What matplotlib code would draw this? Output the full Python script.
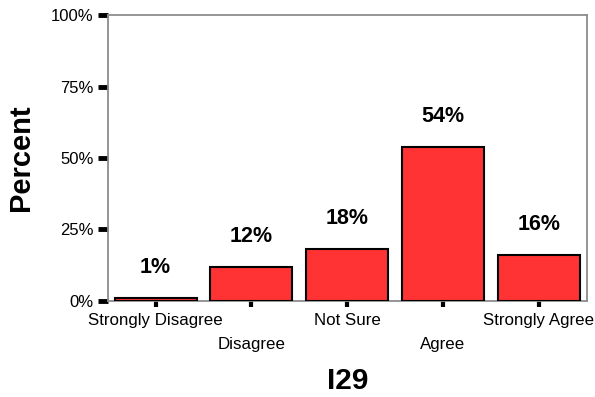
import matplotlib
matplotlib.use("Agg")
import matplotlib.pyplot as plt

plt.rcParams['font.family'] = ['Liberation Sans', 'DejaVu Sans']

categories = ["Strongly Disagree", "Disagree", "Not Sure", "Agree", "Strongly Agree"]
percents = [1, 12, 18, 54, 16]
y_ticks = [0, 25, 50, 75, 100]
y_tick_labels = ["0%", "25%", "50%", "75%", "100%"]

fig = plt.figure(figsize=(5.95, 3.97), dpi=100)
ax = fig.add_axes([0.181, 0.242, 0.805, 0.720])

x = range(len(categories))
ax.bar(x, percents, width=0.855, color="#FF3333", edgecolor="black", linewidth=1.5, zorder=3)

for xi, v in zip(x, percents):
    ax.annotate(f"{v}%", xy=(xi, v), xytext=(0, 22), textcoords="offset points",
                ha="center", va="center", fontsize=15.5, fontweight="bold")

ax.set_xlim(-0.5, len(categories) - 0.5)
ax.set_ylim(0, 100)
ax.set_yticks(y_ticks)
ax.set_yticklabels(y_tick_labels, fontsize=12)
ax.set_xticks(list(x))
ax.set_xticklabels(categories, fontsize=12.2)

ax.tick_params(axis="y", direction="out", length=7, width=3.5, color="black", pad=3)
ax.tick_params(axis="x", direction="out", length=4, width=3, color="black")
for i, t in enumerate(ax.xaxis.get_major_ticks()):
    t.set_pad(4.5 if i % 2 == 0 else 22)

for s in ax.spines.values():
    s.set_color("#8c8c8c")
    s.set_linewidth(1.3)

fig.text(0.036, 0.602, "Percent", rotation=90, ha="center", va="center",
         fontsize=21, fontweight="bold")
fig.text(0.585, 0.040, "I29", ha="center", va="center",
         fontsize=21.5, fontweight="bold")

fig.savefig("out.png", dpi=100)
